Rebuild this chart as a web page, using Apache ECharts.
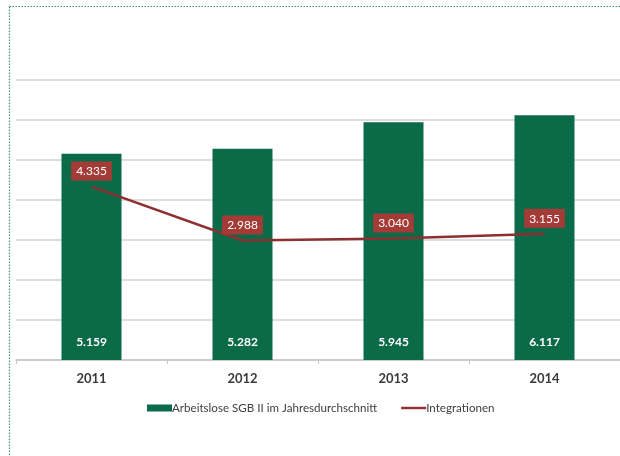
<!DOCTYPE html>
<html>
<head>
<meta charset="utf-8">
<script src="https://cdn.jsdelivr.net/npm/echarts@6/dist/echarts.min.js"></script>
<style>
  html, body { margin: 0; padding: 0; background: #ffffff; }
  #chart { width: 620px; height: 456px; }
</style>
</head>
<body>
<div id="chart"></div>
<script>
// Jahre (Kategorien)
const years = ['2011', '2012', '2013', '2014'];
// Arbeitslose SGB II im Jahresdurchschnitt
const arbeitslose = [5159, 5282, 5945, 6117];
// Integrationen
const integrationen = [4335, 2988, 3040, 3155];
// Legendenbeschriftungen
const seriesNames = ['Arbeitslose SGB II im Jahresdurchschnitt', 'Integrationen'];

const GREEN = '#0b6a48';
const RED = '#8e2f31';
const LABEL_RED = '#a43b37';
const FONT = 'Lato, "Open Sans", sans-serif';

function fmt(v) {
  return v.toLocaleString('de-DE');
}

const chart = echarts.init(document.getElementById('chart'), null, { renderer: 'canvas' });

chart.setOption({
  backgroundColor: '#ffffff',
  animation: false,
  textStyle: { fontFamily: FONT },
  grid: { left: 16, right: -4, top: 80, bottom: 96, containLabel: false },
  legend: {
    left: 147,
    top: 402,
    padding: 0,
    itemWidth: 25,
    itemHeight: 7,
    itemGap: 24,
    textStyle: { color: '#404040', fontSize: 11.6, fontFamily: FONT, padding: [0, 0, 0, -5] },
    data: [
      { name: seriesNames[0], icon: 'rect' },
      { name: seriesNames[1], icon: 'path://M0,0 L25,0 L25,2.4 L0,2.4 Z', itemStyle: { color: RED } }
    ]
  },
  xAxis: {
    type: 'category',
    data: years,
    axisLine: { lineStyle: { color: '#c6c6c6', width: 1.5 } },
    axisTick: { show: true, length: 4, lineStyle: { color: '#c6c6c6' } },
    axisLabel: { color: '#3a3a3a', fontSize: 13, fontWeight: 'bold', margin: 12, fontFamily: FONT }
  },
  yAxis: {
    type: 'value',
    min: 0,
    max: 7000,
    interval: 1000,
    axisLabel: { show: false },
    axisLine: { show: false },
    axisTick: { show: false },
    splitLine: { lineStyle: { color: '#d2d2d2', width: 1.5 } }
  },
  series: [
    {
      name: seriesNames[0],
      type: 'bar',
      data: arbeitslose,
      barWidth: 60,
      itemStyle: { color: GREEN },
      label: {
        show: true,
        position: 'insideBottom',
        distance: 12,
        color: '#ffffff',
        fontSize: 12,
        fontWeight: 'bold',
        fontFamily: FONT,
        formatter: p => fmt(p.value)
      }
    },
    {
      name: seriesNames[1],
      type: 'line',
      data: integrationen,
      symbol: 'circle',
      symbolSize: 0.01,
      showSymbol: true,
      lineStyle: { color: RED, width: 2.5 },
      itemStyle: { color: RED },
      label: {
        show: true,
        position: 'top',
        distance: 6,
        color: '#ffffff',
        fontSize: 12,
        fontFamily: FONT,
        backgroundColor: LABEL_RED,
        padding: [4, 5, 3, 5],
        formatter: p => fmt(p.value)
      },
      z: 3
    }
  ],
  graphic: [
    {
      type: 'line',
      shape: { x1: 9.5, y1: 6.5, x2: 620, y2: 6.5 },
      style: { stroke: '#3f8f7d', lineWidth: 1.2, lineDash: [1.5, 1.5] },
      silent: true
    },
    {
      type: 'line',
      shape: { x1: 9.5, y1: 6.5, x2: 9.5, y2: 456 },
      style: { stroke: '#3f8f7d', lineWidth: 1.2, lineDash: [1.5, 1.5] },
      silent: true
    }
  ]
});
</script>
</body>
</html>
